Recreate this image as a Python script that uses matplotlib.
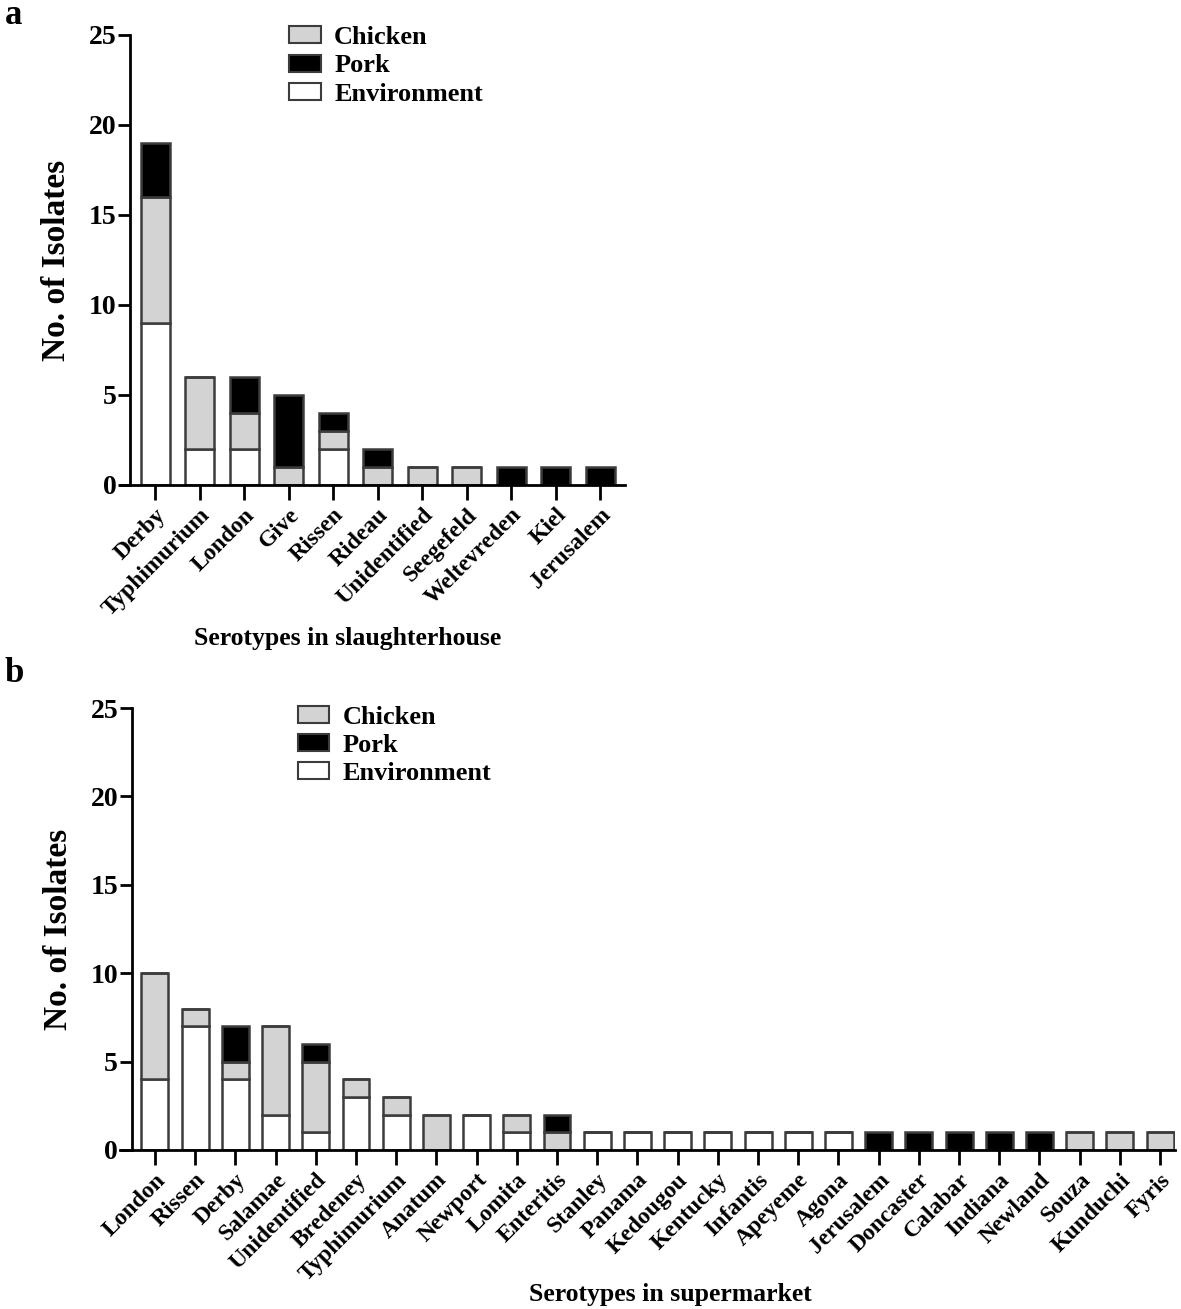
import numpy as np
import matplotlib
matplotlib.use('Agg')
import matplotlib.pyplot as plt
from matplotlib.patches import Patch

plt.rcParams['font.family'] = ['Liberation Serif', 'DejaVu Serif']
plt.rcParams['font.weight'] = 'bold'

# panel a: slaughterhouse
sero_a = ['Derby', 'Typhimurium', 'London', 'Give', 'Rissen', 'Rideau',
          'Unidentified', 'Seegefeld', 'Weltevreden', 'Kiel', 'Jerusalem']
env_a = [9, 2, 2, 0, 2, 0, 0, 0, 0, 0, 0]
chk_a = [7, 4, 2, 1, 1, 1, 1, 1, 0, 0, 0]
pork_a = [3, 0, 2, 4, 1, 1, 0, 0, 1, 1, 1]

# panel b: supermarket
sero_b = ['London', 'Rissen', 'Derby', 'Salamae', 'Unidentified', 'Bredeney',
          'Typhimurium', 'Anatum', 'Newport', 'Lomita', 'Enteritis', 'Stanley',
          'Panama', 'Kedougou', 'Kentucky', 'Infantis', 'Apeyeme', 'Agona',
          'Jerusalem', 'Doncaster', 'Calabar', 'Indiana', 'Newland', 'Souza',
          'Kunduchi', 'Fyris']
env_b = [4, 7, 4, 2, 1, 3, 2, 0, 2, 1, 0, 1, 1, 1, 1, 1, 1, 1,
         0, 0, 0, 0, 0, 0, 0, 0]
chk_b = [6, 1, 1, 5, 4, 1, 1, 2, 0, 1, 1, 0, 0, 0, 0, 0, 0, 0,
         0, 0, 0, 0, 0, 1, 1, 1]
pork_b = [0, 0, 2, 0, 1, 0, 0, 0, 0, 0, 1, 0, 0, 0, 0, 0, 0, 0,
          1, 1, 1, 1, 1, 0, 0, 0]

c_chk = '#d3d3d3'
c_pork = '#000000'
c_env = '#ffffff'
edge = '#3c3c3c'

fig = plt.figure(figsize=(11.81, 13.09), dpi=100)


def draw(ax, names, env, chk, pork, width, xl, spine_x):
    x = np.arange(len(names))
    env = np.array(env)
    chk = np.array(chk)
    pork = np.array(pork)
    kw = dict(width=width, edgecolor=edge, linewidth=1.8)
    ax.bar(x, env, color=c_env, **kw)
    ax.bar(x, chk, bottom=env, color=c_chk, **kw)
    ax.bar(x, pork, bottom=env + chk, color=c_pork, **kw)
    ax.set_xlim(*xl)
    ax.set_ylim(0, 25)
    ax.spines['top'].set_visible(False)
    ax.spines['right'].set_visible(False)
    ax.spines['left'].set_position(('data', spine_x))
    ax.spines['left'].set_linewidth(2)
    ax.spines['bottom'].set_linewidth(2)
    ax.set_yticks([0, 5, 10, 15, 20, 25])
    ax.tick_params(axis='y', length=9, width=2, pad=1, labelsize=20)
    ax.tick_params(axis='x', length=11, width=2, pad=3)
    ax.set_xticks(x)
    ax.set_xticklabels(names, rotation=45, ha='right', rotation_mode='anchor',
                       fontsize=17, fontweight='bold')
    ax.set_ylabel('No. of Isolates', fontsize=24, fontweight='bold', labelpad=12)
    handles = [Patch(facecolor=c_chk, edgecolor=edge, linewidth=1.5, label='Chicken'),
               Patch(facecolor=c_pork, edgecolor=edge, linewidth=1.5, label='Pork'),
               Patch(facecolor=c_env, edgecolor=edge, linewidth=1.5, label='Environment')]
    return handles


ax1 = fig.add_axes([0.1016, 0.6295, 0.4276, 0.3438])
h = draw(ax1, sero_a, env_a, chk_a, pork_a, 0.65, (-0.79, 10.56), -0.56)
ax1.legend(handles=h, loc='upper left', bbox_to_anchor=(0.245, 0.980),
           bbox_transform=fig.transFigure, frameon=False, fontsize=19,
           handlelength=1.2, handleheight=0.62, handletextpad=0.5,
           labelspacing=0.2, borderpad=0, borderaxespad=0)

ax2 = fig.add_axes([0.1016, 0.1215, 0.8933, 0.3376])
h = draw(ax2, sero_b, env_b, chk_b, pork_b, 0.67, (-0.87, 25.37), -0.57)
ax2.legend(handles=h, loc='upper left', bbox_to_anchor=(0.252, 0.461),
           bbox_transform=fig.transFigure, frameon=False, fontsize=19,
           handlelength=1.2, handleheight=0.62, handletextpad=0.5,
           labelspacing=0.2, borderpad=0, borderaxespad=0)

fig.text(348 / 1181, 1 - 638 / 1309, 'Serotypes in slaughterhouse', ha='center',
         va='center', fontsize=18.5, fontweight='bold')
fig.text(670 / 1181, 1 - 1295 / 1309, 'Serotypes in supermarket', ha='center',
         va='center', fontsize=18.5, fontweight='bold')
fig.text(0.004, 1 - 16 / 1309, 'a', ha='left', va='center', fontsize=25, fontweight='bold')
fig.text(0.004, 1 - 673 / 1309, 'b', ha='left', va='center', fontsize=25, fontweight='bold')

fig.savefig('out.png', dpi=100)
